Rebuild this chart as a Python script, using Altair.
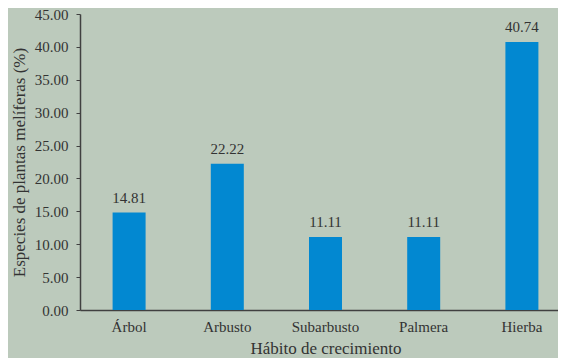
import altair as alt
import pandas as pd

categorias = ["Árbol", "Arbusto", "Subarbusto", "Palmera", "Hierba"]
valores = [14.81, 22.22, 11.11, 11.11, 40.74]
ticks_y = [0, 5, 10, 15, 20, 25, 30, 35, 40, 45]

df = pd.DataFrame({"cat": categorias, "val": valores})
df["lab"] = df["val"].map(lambda v: f"{v:.2f}")

FONT = "Liberation Serif, Times New Roman, serif"
TXT = "#333333"

xscale = alt.Scale(range=[0, 491], paddingInner=0.664, paddingOuter=0.332)
yscale = alt.Scale(domain=[0, 45], nice=False)

x = alt.X("cat:N", sort=categorias, title="Hábito de crecimiento", scale=xscale,
          axis=alt.Axis(labelAngle=0, ticks=False, labelPadding=9, titlePadding=6,
                        labelFontSize=15, titleFontSize=17, domainColor="#404040",
                        domainWidth=1.5))
y = alt.Y("val:Q", title="Especies de plantas melíferas (%)", scale=yscale,
          axis=alt.Axis(values=ticks_y, format=".2f", grid=False, labelOverlap=False,
                        tickSize=4, labelPadding=8, labelFontSize=15, titleFontSize=17,
                        titlePadding=6, domainColor="#404040", tickColor="#404040",
                        domainWidth=1.5))

base = alt.Chart(df).encode(x=x, y=y)
bars = base.mark_bar(color="#0288D1")
text = base.mark_text(dy=-10, fontSize=15, font=FONT, color=TXT, baseline="alphabetic").encode(text="lab:N")

chart = (bars + text).properties(
    width=478, height=296, background="#BCCABC",
    padding={"left": 72, "top": 6, "right": 0, "bottom": 48},
    autosize=alt.AutoSizeParams(type="none")
).configure_view(stroke=None).configure_axis(
    labelFont=FONT, titleFont=FONT, labelColor=TXT, titleColor=TXT, titleFontWeight="normal"
)

chart.save("out.html", embed_options={"renderer": "svg", "actions": False})
